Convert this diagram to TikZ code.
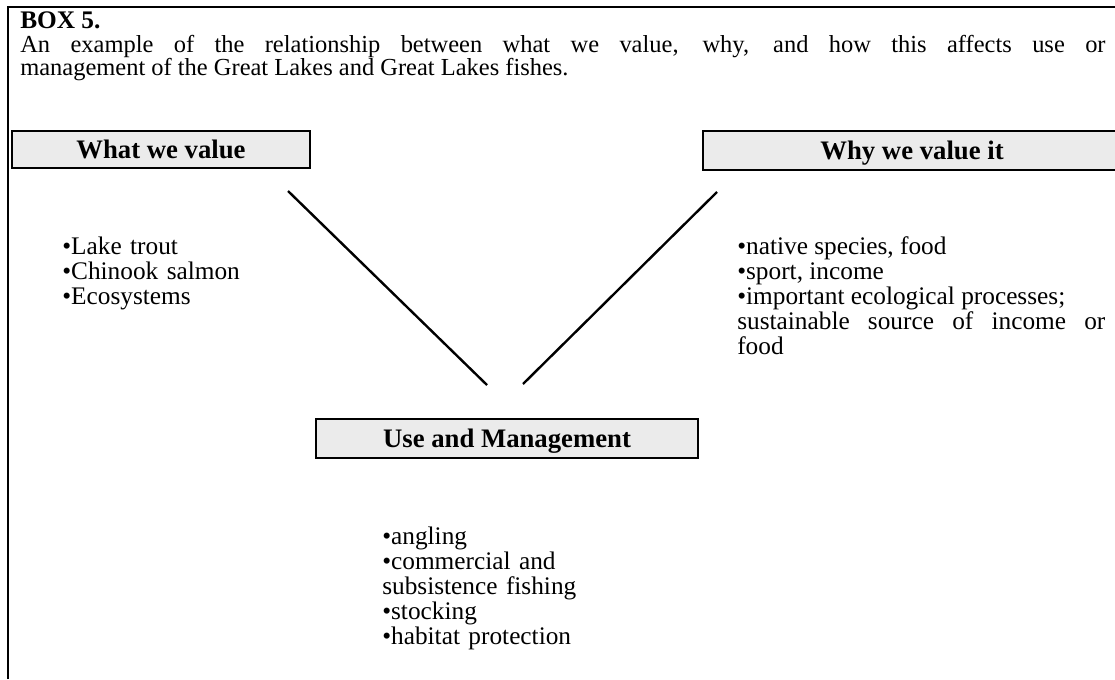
\documentclass[tikz,border=0pt]{standalone}
\usepackage{fontspec}
\setmainfont{Liberation Serif}
\begin{document}
\begin{tikzpicture}[x=0.025cm, y=-0.025cm,
                  font=\fontsize{18}{18}\selectfont,
                  entete/.style={draw, line width=1pt, fill=black!8, inner sep=0pt, text depth=0pt,
                                 font=\fontsize{19}{19}\selectfont\bfseries},
                  liste/.style={anchor=base west, inner sep=0pt, text width=#1,
                                font=\fontsize{18}{17.8}\selectfont}]
\useasboundingbox (0,0) rectangle (1115,679);
\clip (0,0) rectangle (1115,679);
\draw[line width=0.9pt] (8,679) -- (8,7) -- (1115,7);
\node[anchor=base west, inner sep=0pt, font=\fontsize{18}{18}\selectfont\bfseries] (titre) at (20,28) {BOX 5.};
\node[anchor=base west, inner sep=0pt, text width=27.125cm, align=justify,
      font=\fontsize{17.4}{16.4}\selectfont] (intro) at (20,52)
  {An example of the relationship between what we value, why, and how this affects use or\linebreak
   management of the Great Lakes and Great Lakes fishes.};
\node[entete, minimum width=7.45cm, minimum height=0.925cm] (quoi) at (161,149.5) {What we value};
\node[entete, minimum width=10.45cm, minimum height=0.975cm] (pourquoi) at (912,150.5) {Why we value it};
\node[entete, minimum width=9.55cm, minimum height=0.975cm] (usage) at (507,438.5) {Use and Management};
\node[liste=7cm, align=left] (valeurs) at (62,254)
  {•Lake trout\\ •Chinook salmon\\ •Ecosystems};
\node[liste=9.2cm, align=justify] (raisons) at (737,254)
  {•native species, food\\ •sport, income\\ •important ecological processes;\\
   sustainable source of income or\linebreak food};
\node[liste=8cm, align=left] (gestion) at (382,544)
  {•angling\\ •commercial and\\ subsistence fishing\\ •stocking\\ •habitat protection};
\coordinate (q1) at (288,191);
\coordinate (q2) at (487,385);
\coordinate (p1) at (717,192);
\coordinate (p2) at (523,384);
\draw[line width=1.7pt] (q1) -- (q2);
\draw[line width=1.7pt] (p1) -- (p2);
\end{tikzpicture}
\end{document}
